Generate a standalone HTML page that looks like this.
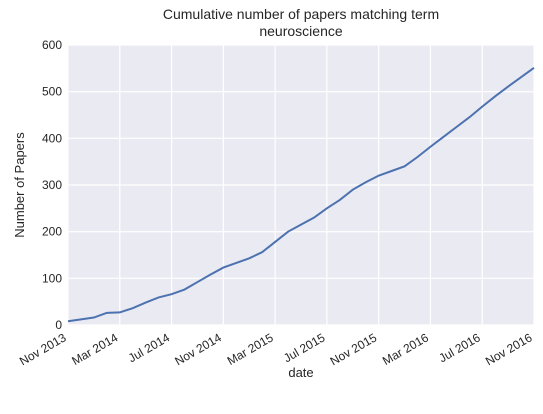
<!DOCTYPE html>
<html><head><meta charset="utf-8"><style>
body{margin:0;background:#fff;font-family:"Liberation Sans",sans-serif;}
svg text{font-family:"Liberation Sans",sans-serif;fill:#262626;}
</style></head><body>
<svg id="c" width="543" height="409">
<text x="301" y="19" text-anchor="middle" font-size="14">Cumulative number of papers matching term</text>
<text x="301" y="36" text-anchor="middle" font-size="14">neuroscience</text>
<rect x="68" y="45" width="466" height="280" fill="#eaeaf2"/>
<g id="grid"></g><g id="ticks"></g>
<text x="301" y="377" text-anchor="middle" font-size="13">date</text>
<text transform="translate(24,185) rotate(-90)" text-anchor="middle" font-size="13">Number of Papers</text>
</svg>
<script>
const values=[8,12,16,26,27,36,48,59,66,76,92,108,123,133,143,156,178,200,215,230,250,268,290,306,320,330,340,360,382,403,424,445,468,490,511,531,551];
const yTicks=[0,100,200,300,400,500,600];
const xTickLabels=["Nov 2013","Mar 2014","Jul 2014","Nov 2014","Mar 2015","Jul 2015","Nov 2015","Mar 2016","Jul 2016","Nov 2016"];
const ns="http://www.w3.org/2000/svg";
const X0=68,X1=534,Y0=325,Y1=45,nMonths=36;
const xs=m=>X0+(X1-X0)*m/nMonths, ys=v=>Y0-(Y0-Y1)*v/600;
const grid=document.getElementById('grid'),ticks=document.getElementById('ticks'),svg=document.getElementById('c');
function mk(t,a,p){const e=document.createElementNS(ns,t);for(const k in a)e.setAttribute(k,a[k]);p.appendChild(e);return e;}
yTicks.forEach(v=>{
 const l=mk('line',{x1:X0,x2:X1,y1:ys(v),y2:ys(v),stroke:'#fff','stroke-width':1.2},grid);
 
 
 const t=mk('text',{x:X0-6,y:ys(v)+4,'text-anchor':'end','font-size':12},ticks);t.textContent=v;
 
 
});
xTickLabels.forEach((s,i)=>{
 const x=xs(i*4);
 const l=mk('line',{x1:x,x2:x,y1:Y1,y2:Y0,stroke:'#fff','stroke-width':1.2},grid);
 
 
 const t=mk('text',{transform:`translate(${x-1},${Y0+15}) rotate(-30)`,'text-anchor':'end','font-size':12},ticks);t.textContent=s;
 
 
});
const p=mk('polyline',{points:values.map((v,i)=>xs(i)+','+ys(v)).join(' '),fill:'none',stroke:'#4c72b0','stroke-width':2},svg);


</script>
</body></html>
